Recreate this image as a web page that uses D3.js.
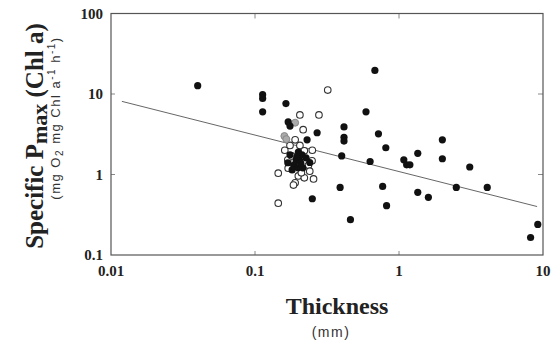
<!DOCTYPE html>
<html><head><meta charset="utf-8">
<script src="https://cdn.jsdelivr.net/npm/d3@7"></script>
<style>body{margin:0;background:#fff}svg{display:block}</style>
</head><body>
<svg id="c" width="553" height="342"></svg>
<script>
// ---- data ----
const filledX = [0.040,0.113,0.113,0.113,0.164,0.17,0.175,0.27,0.23,0.415,0.415,0.415,0.40,0.59,0.68,0.72,0.81,0.63,1.08,1.13,1.19,1.35,2.0,2.0,3.1,2.5,4.1,1.35,1.6,0.77,0.82,0.39,0.46,0.25,0.24,9.2,8.2,
  0.175,0.193,0.205,0.187,0.199,0.215,0.226,0.169,0.212,0.181,0.20,0.195,0.208];
const filledY = [12.7,9.8,8.8,6.0,7.6,4.5,4.0,3.3,2.7,3.9,2.9,2.6,1.7,6.0,19.6,3.2,2.15,1.45,1.52,1.32,1.32,1.83,2.7,1.57,1.24,0.69,0.69,0.60,0.52,0.71,0.41,0.69,0.275,0.50,1.41,0.24,0.165,
  1.76,1.52,1.48,1.32,1.21,1.21,1.61,1.40,1.76,1.14,1.9,1.65,1.38];
const openX = [0.32,0.205,0.278,0.216,0.19,0.175,0.205,0.161,0.22,0.25,0.169,0.249,0.145,0.20,0.22,0.19,0.255,0.185,0.145,0.18,0.235,0.24,0.17,0.21];
const openY = [11.2,5.5,5.5,3.6,2.7,2.3,2.3,2.0,1.97,2.0,1.52,1.48,1.04,0.96,0.91,0.79,0.88,0.74,0.44,1.7,1.3,1.1,1.2,1.05];
const greyX = [0.19,0.16,0.165];
const greyY = [4.4,3.0,2.75];
const lineX = [0.0119, 9.1];
const lineY = [8.1, 0.40];
const xTicks = [0.01,0.1,1,10];
const xTickLabels = ["0.01","0.1","1","10"];
const yTicks = [0.1,1,10,100];
const yTickLabels = ["0.1","1","10","100"];

// ---- chart ----
const svg = d3.select("#c");
const L=111, R=543, T=13.5, B=255;
const x = d3.scaleLog().domain([0.01,10]).range([L,R]);
const y = d3.scaleLog().domain([0.1,100]).range([B,T]);

// regression line
svg.append("path")
  .attr("d", d3.line().x(d=>x(d[0])).y(d=>y(d[1]))(lineX.map((v,i)=>[v,lineY[i]])))
  .attr("stroke","#666").attr("stroke-width",1).attr("fill","none");

// inner ticks
const inner = [0.1,1];
const innerY = [1,10];
const tk = svg.append("g").attr("stroke","#888").attr("stroke-width",1);
inner.forEach(v=>{
  tk.append("line").attr("x1",x(v)).attr("x2",x(v)).attr("y1",T).attr("y2",T+5);
  tk.append("line").attr("x1",x(v)).attr("x2",x(v)).attr("y1",B).attr("y2",B-4);
});
innerY.forEach(v=>{
  tk.append("line").attr("y1",y(v)).attr("y2",y(v)).attr("x1",L).attr("x2",L+4);
  tk.append("line").attr("y1",y(v)).attr("y2",y(v)).attr("x1",R).attr("x2",R-5);
});

// frame
svg.append("rect").attr("x",L).attr("y",T).attr("width",R-L).attr("height",B-T)
  .attr("fill","none").attr("stroke","#555").attr("stroke-width",1.2);

// points
svg.append("g").selectAll("circle").data(openX.map((v,i)=>[v,openY[i]])).join("circle")
  .attr("cx",d=>x(d[0])).attr("cy",d=>y(d[1])).attr("r",3.3)
  .attr("fill","#fff").attr("stroke","#333").attr("stroke-width",1.1);
svg.append("g").selectAll("circle").data(greyX.map((v,i)=>[v,greyY[i]])).join("circle")
  .attr("cx",d=>x(d[0])).attr("cy",d=>y(d[1])).attr("r",3.5)
  .attr("fill","#aaa").attr("stroke","#888").attr("stroke-width",1);
svg.append("g").selectAll("circle").data(filledX.map((v,i)=>[v,filledY[i]])).join("circle")
  .attr("cx",d=>x(d[0])).attr("cy",d=>y(d[1])).attr("r",3.6)
  .attr("fill","#111");

// tick labels
const serif = "'Liberation Serif','DejaVu Serif',serif";
svg.append("g").selectAll("text").data(xTicks).join("text")
  .attr("x",d=>x(d)).attr("y",276).attr("text-anchor","middle")
  .attr("font-family",serif).attr("font-weight","bold").attr("font-size",15).attr("fill","#222")
  .text((d,i)=>xTickLabels[i]);
svg.append("g").selectAll("text").data(yTicks).join("text")
  .attr("x",103).attr("y",d=>y(d)).attr("dy","0.35em").attr("text-anchor","end")
  .attr("font-family",serif).attr("font-weight","bold").attr("font-size",15).attr("fill","#222")
  .text((d,i)=>yTickLabels[i]);

// axis titles
svg.append("text").attr("x",337).attr("y",314).attr("text-anchor","middle")
  .attr("font-family",serif).attr("font-weight","bold").attr("font-size",24).attr("fill","#222")
  .text("Thickness");
svg.append("text").attr("x",331).attr("y",337).attr("text-anchor","middle")
  .attr("font-family","'Liberation Sans',Arial,sans-serif").attr("font-size",14).attr("letter-spacing",1.5).attr("fill","#333")
  .text("(mm)");

const yl = svg.append("text").attr("transform","translate(43,136) rotate(-90)").attr("text-anchor","middle")
  .attr("font-family",serif).attr("font-weight","bold").attr("font-size",25).attr("fill","#222");
yl.append("tspan").text("Specific P");
yl.append("tspan").attr("dy",4).attr("font-size",22).text("max");
yl.append("tspan").attr("dy",-4).text(" (Chl a)");

const yl2 = svg.append("text").attr("transform","translate(60,118) rotate(-90)").attr("text-anchor","middle")
  .attr("font-family","'Liberation Sans',Arial,sans-serif").attr("font-size",13).attr("letter-spacing",1.5).attr("fill","#333");
yl2.append("tspan").text("(mg O");
yl2.append("tspan").attr("dy",3).attr("font-size",10).text("2");
yl2.append("tspan").attr("dy",-3).text(" mg Chl a");
yl2.append("tspan").attr("dy",-5).attr("font-size",10).text("-1");
yl2.append("tspan").attr("dy",5).text(" h");
yl2.append("tspan").attr("dy",-5).attr("font-size",10).text("-1");
yl2.append("tspan").attr("dy",5).text(")");
</script>
</body></html>
